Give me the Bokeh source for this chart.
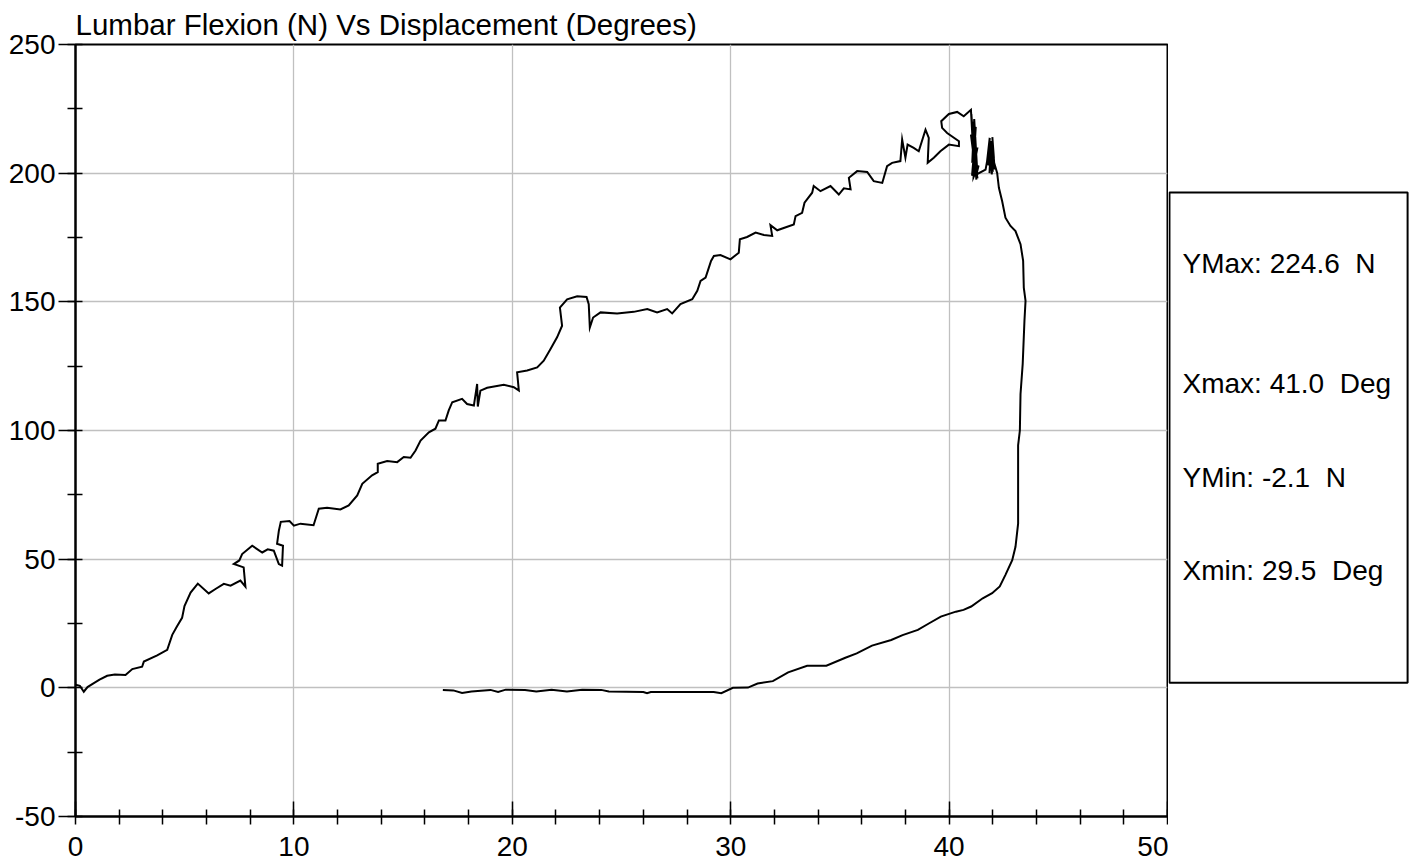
from bokeh.plotting import figure
from bokeh.layouts import row
from bokeh.models import Range1d, FixedTicker, BoxAnnotation, Label, PrintfTickFormatter
from bokeh.embed import file_html
from bokeh.resources import INLINE

# ---- data ----
displacement = [
    0.0, 0.2, 0.38, 0.55, 0.84, 1.1, 1.45, 1.8, 2.29, 2.6, 3.05, 3.13, 3.74, 4.2, 4.43,
    4.65, 4.88, 4.99, 5.27, 5.6, 6.1, 6.41, 6.79, 7.1, 7.55, 7.78, 7.7, 7.25, 7.5, 7.63,
    8.09, 8.55, 8.8, 9.08, 9.31, 9.46, 9.5, 9.23, 9.31, 9.4, 9.8, 10.0, 10.3, 10.9, 11.14,
    11.52, 12.13, 12.51, 12.9, 13.13, 13.58, 13.84, 13.84, 14.27, 14.73, 15.03, 15.34, 15.57,
    15.8, 16.18, 16.48, 16.64, 16.94, 17.09, 17.25, 17.7, 17.93, 18.24, 18.39, 18.42, 18.54,
    18.85, 19.61, 20.07, 20.3, 20.22, 20.68, 21.14, 21.44, 21.75, 22.05, 22.28, 22.18, 22.51,
    22.97, 23.4, 23.5, 23.55, 23.7, 24.04, 24.8, 25.56, 26.18, 26.63, 27.09, 27.32, 27.7,
    28.24, 28.47, 28.62, 28.85, 29.0, 29.1, 29.23, 29.53, 29.99, 30.37, 30.42, 30.75, 31.14,
    31.52, 31.9, 31.82, 32.13, 32.89, 32.97, 33.27, 33.38, 33.73, 33.8, 34.11, 34.57, 34.95,
    35.18, 35.49, 35.41, 35.79, 36.25, 36.55, 36.94, 37.16, 37.39, 37.77, 37.85, 38.0, 38.1,
    38.38, 38.61, 38.92, 39.07, 39.02, 39.3, 39.6, 39.99, 40.45, 40.45, 39.91, 39.68, 39.64,
    39.99, 40.37, 40.67, 41.0,
    41.12, 41.02, 41.18, 41.05, 41.2, 41.08, 41.25, 41.1, 41.22, 41.0, 41.3, 41.12, 41.28,
    41.15, 41.06, 41.22, 41.1, 41.3, 41.05, 41.2, 41.12, 41.35, 41.25,
    41.67, 41.74, 41.86, 41.8, 41.92, 41.85, 41.98, 41.9, 42.02, 41.95, 42.05, 41.98, 42.08,
    41.88, 42.0, 41.93, 42.06, 41.96, 42.1,
    42.2, 42.28, 42.43, 42.58,
    42.81, 43.04, 43.27, 43.39, 43.42, 43.5, 43.45, 43.37, 43.27, 43.24, 43.16, 43.16, 43.04,
    42.89, 42.58, 42.32, 41.97, 41.54, 41.01, 40.66, 40.31, 39.62, 39.09, 38.57, 37.87, 37.35,
    36.47, 35.77, 35.25, 34.38, 33.5, 32.63, 31.93, 31.23, 30.79, 30.1, 29.57, 29.22, 27.74,
    26.34, 26.17, 26.0, 24.42, 24.07, 23.2, 22.5, 21.8, 21.1, 20.58, 19.7, 19.35, 19.0,
    18.13, 17.7, 17.3, 16.82,
]
force = [
    1.2, 0.8, -1.5, 0.3, 1.8, 3.2, 4.7, 5.2, 5.0, 7.3, 8.2, 10.2, 12.6, 14.8, 20.6,
    23.9, 27.2, 31.8, 37.0, 40.5, 36.7, 38.4, 40.4, 39.7, 41.7, 39.3, 46.8, 48.1, 49.5, 52.0,
    55.2, 52.6, 53.8, 53.3, 48.1, 47.5, 55.2, 56.0, 61.0, 64.5, 64.8, 63.0, 63.8, 63.2, 69.6,
    70.0, 69.3, 70.9, 74.8, 79.3, 82.6, 83.8, 87.1, 88.1, 87.7, 89.7, 89.4, 92.2,
    96.1, 99.3, 100.7, 103.9, 103.9, 107.8, 111.0, 112.3, 110.3, 109.7, 118.1, 109.3, 115.5,
    116.6, 117.8, 116.8, 115.5, 122.6, 123.3, 124.5, 127.1, 131.7, 136.2, 140.7, 147.8, 151.0,
    152.2, 151.9, 149.1, 140.0, 143.9, 145.9, 145.5, 146.1, 147.2, 145.9, 147.2, 145.5, 149.1,
    151.0, 154.3, 158.1, 159.4, 163.3, 165.9, 167.8, 168.2, 166.5, 169.1, 174.3, 175.2, 176.9,
    176.0, 175.6, 179.8, 177.8, 180.1, 183.3, 184.6, 188.5, 192.4, 195.0, 193.0, 195.0, 191.7,
    194.1, 193.7, 198.2, 200.8, 200.5, 196.9, 196.2, 202.7, 204.0, 204.7, 213.1, 206.0, 211.1,
    209.8, 208.5, 216.9, 213.7, 204.0, 206.0, 208.5, 211.1, 210.5, 212.4, 215.6, 217.6, 220.2,
    223.0, 223.8, 222.1, 224.6,
    206.0, 223.0, 203.0, 220.0, 199.0, 217.0, 197.5, 212.0, 200.0, 215.0, 198.0, 208.0, 202.0,
    221.0, 204.0, 218.0, 201.0, 210.0, 199.0, 214.0, 198.5, 203.0, 199.5,
    201.4, 204.7, 213.7, 203.0, 212.0, 200.0, 210.0, 201.0, 208.0, 199.5, 206.0, 214.0, 202.0,
    209.0, 200.5, 212.5, 201.5, 207.0, 203.0,
    200.1, 194.3, 189.1, 182.7,
    179.5, 177.5, 172.4, 165.9, 155.5, 150.4, 142.6, 125.9, 114.2, 100.0, 94.2, 63.8, 54.8,
    49.6, 43.9, 39.4, 36.8, 34.8, 31.6, 30.3, 29.6, 27.7, 25.1, 22.5, 20.5, 18.6,
    16.4, 13.4, 11.7, 8.6, 8.6, 6.0, 2.6, 1.7, 0.1, 0.0, -2.1, -1.6, -1.6,
    -1.6, -2.1, -1.6, -1.4, -0.8, -0.7, -1.4, -0.7, -1.4, -0.8, -0.7, -1.6, -0.8,
    -1.4, -2.0, -1.0, -0.8,
]
x_major_ticks = [0, 10, 20, 30, 40, 50]
x_minor_ticks = list(range(0, 51, 2))
y_major_ticks = [-50, 0, 50, 100, 150, 200, 250]
y_minor_ticks = list(range(-50, 251, 25))
title_text = "Lumbar Flexion (N) Vs Displacement (Degrees)"
stat_labels = ["YMax: 224.6 \u00a0N", "Xmax: 41.0 \u00a0Deg", "YMin: -2.1 \u00a0N", "Xmin: 29.5 \u00a0Deg"]

FONT = "Liberation Sans"
FS = "28px"
H = 862

p = figure(width=1168, height=H, output_backend="svg", toolbar_location=None,
           x_range=Range1d(0, 50), y_range=Range1d(-50, 250),
           min_border_left=75, min_border_right=1, min_border_top=44, min_border_bottom=46)
p.title.text = title_text
p.title.text_font = FONT
p.title.text_font_size = "29.5px"
p.title.text_font_style = "normal"
p.title.text_color = "black"
p.title.align = "left"
p.title.standoff = 8
p.title.offset = 0

p.outline_line_color = "black"
p.outline_line_width = 2
p.outline_line_alpha = 1

p.xaxis.ticker = FixedTicker(ticks=x_major_ticks, minor_ticks=x_minor_ticks)
p.yaxis.ticker = FixedTicker(ticks=y_major_ticks, minor_ticks=y_minor_ticks)
for ax in (p.xaxis, p.yaxis):
    ax.formatter = PrintfTickFormatter(format="%d")
    ax.axis_line_color = "black"
    ax.axis_line_width = 2
    ax.major_tick_line_color = "black"
    ax.major_tick_line_width = 1.5
    ax.minor_tick_line_color = "black"
    ax.minor_tick_line_width = 1.5
    ax.major_label_text_font = FONT
    ax.major_label_text_font_size = FS
    ax.major_label_text_color = "black"
    ax.minor_tick_in = 7
    ax.minor_tick_out = 8
p.xaxis.major_tick_in = 15
p.xaxis.major_tick_out = 0
p.xaxis.major_label_standoff = 12
p.yaxis.major_tick_in = 0
p.yaxis.major_tick_out = 17
p.yaxis.major_label_standoff = 3

p.grid.grid_line_color = "#c0c0c0"
p.grid.grid_line_width = 1.3
p.xgrid.ticker = FixedTicker(ticks=x_major_ticks)
p.ygrid.ticker = FixedTicker(ticks=y_major_ticks)

p.line(displacement, force, line_color="black", line_width=2, line_join="miter")

# side panel holding the statistics box (same vertical scale as the plot)
q = figure(width=242, height=H, output_backend="svg", toolbar_location=None,
           x_range=Range1d(0, 1), y_range=Range1d(-50, 250),
           x_axis_type=None, y_axis_type=None,
           min_border_left=0, min_border_right=0, min_border_top=44, min_border_bottom=46)
q.grid.visible = False
q.outline_line_color = None
q.add_layout(BoxAnnotation(left=0.004, right=0.988, bottom=2.0, top=192.5,
                           fill_color="white", fill_alpha=1,
                           line_color="black", line_width=2, line_alpha=1))
for lab, yy in zip(stat_labels, [164.8, 118.1, 81.8, 45.6]):
    q.add_layout(Label(x=0.058, y=yy, text=lab,
                       text_font=FONT, text_font_size=FS, text_color="black",
                       text_baseline="middle", text_align="left"))

open("out.html", "w").write(file_html(row(p, q), INLINE))
